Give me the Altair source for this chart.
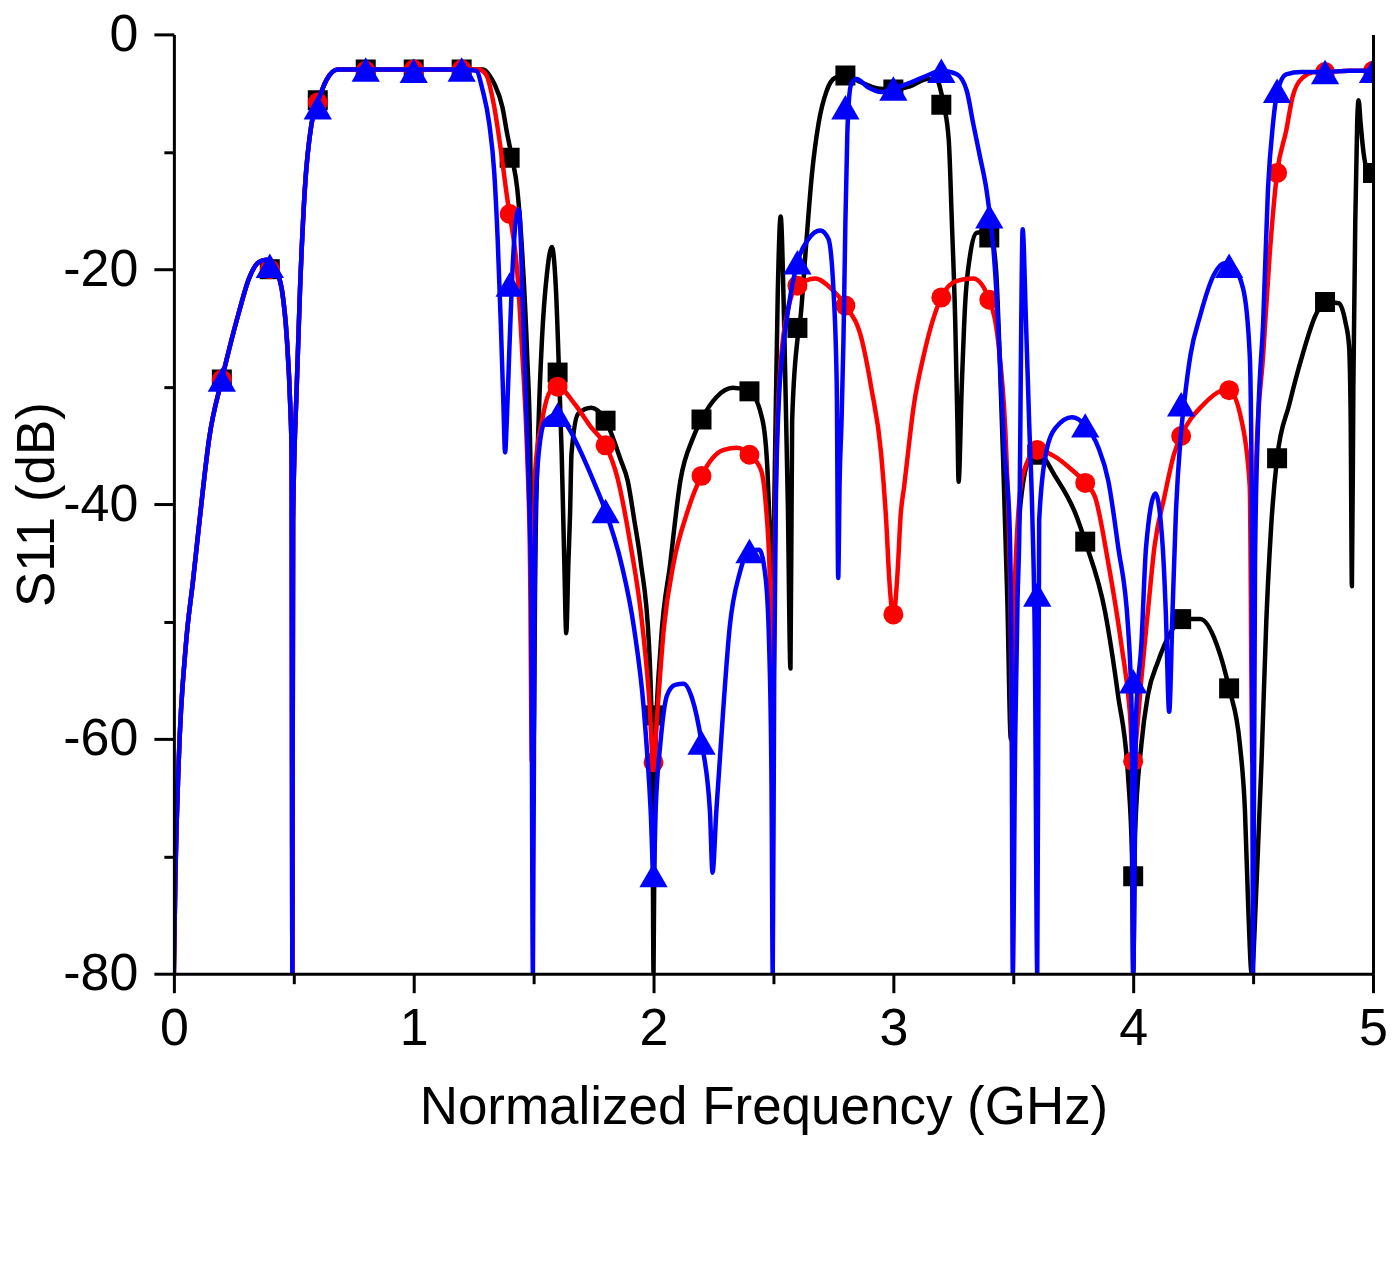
import altair as alt
import pandas as pd

names = ["α=50deg", "α=60deg", "α=70deg"]
colors = ["#0000ff", "#ff0000", "#000000"]
shapes = ["triangle-up", "circle", "square"]

x_major = [0, 1, 2, 3, 4, 5]
x_minor = [0.5, 1.5, 2.5, 3.5, 4.5]
y_major = [-80, -60, -40, -20, 0]
y_minor = [-70, -50, -30, -10]

# below 1.2 GHz the three curves lie on top of each other
start_pts = [
    (0.0, -80), (0.006, -72), (0.02, -62), (0.05, -52), (0.08, -46.5), (0.107, -41.4),
    (0.148, -34.3), (0.2, -29.4), (0.238, -26.2), (0.272, -23.6), (0.313, -20.8),
    (0.354, -19.4), (0.385, -19.2), (0.409, -19.4), (0.43, -20.3), (0.45, -21.7),
    (0.471, -25.9), (0.485, -31.5), (0.491, -35.7), (0.494, -80), (0.497, -41.4),
    (0.512, -30.1), (0.526, -21.7), (0.546, -13.2), (0.574, -7.6), (0.6, -5.8),
    (0.636, -3.9), (0.684, -3.0), (0.75, -3.0), (0.8, -3.0), (0.9, -3.0), (1.0, -3.0),
    (1.1, -3.0), (1.2, -3.0),
]

blue_pts = [
    (1.26, -3.1), (1.288, -4.8), (1.315, -7.6), (1.336, -11.8), (1.35, -17.4), (1.363, -24.5),
    (1.374, -31.5), (1.381, -35.6), (1.388, -33.0), (1.398, -27.3), (1.409, -21.4), (1.425, -16.0),
    (1.439, -14.9), (1.453, -21.7), (1.466, -30.1), (1.48, -38.5), (1.49, -48), (1.497, -80),
    (1.503, -52), (1.507, -41.4), (1.521, -35.7), (1.549, -32.9), (1.6, -32.4), (1.645, -33.5),
    (1.713, -36.3), (1.755, -38.3), (1.8, -40.6), (1.865, -45.0), (1.919, -50.6), (1.96, -57.6),
    (1.988, -66.1), (2.0, -71.6), (2.01, -65.5), (2.028, -60.5), (2.056, -56.3), (2.09, -55.4),
    (2.125, -55.3), (2.16, -56.5), (2.2, -60.3), (2.235, -66.1), (2.246, -71.4), (2.262, -66.1),
    (2.29, -57.7), (2.317, -50.6), (2.359, -45.9), (2.4, -44.0), (2.441, -43.9), (2.468, -46.4),
    (2.482, -52.0), (2.492, -64), (2.497, -80), (2.503, -55), (2.51, -40), (2.523, -31),
    (2.537, -27.3), (2.564, -23.1), (2.6, -19.4), (2.647, -17.4), (2.695, -16.7), (2.729, -17.4),
    (2.75, -21.7), (2.764, -30), (2.77, -46.3), (2.776, -38), (2.784, -32.9), (2.792, -26),
    (2.8, -16), (2.808, -8.5), (2.815, -5.5), (2.825, -4.2), (2.846, -3.8), (2.894, -4.5),
    (2.949, -4.9), (3.0, -4.6), (3.072, -4.1), (3.141, -3.5), (3.2, -3.1), (3.265, -3.4),
    (3.306, -4.8), (3.333, -7.6), (3.361, -10.4), (3.388, -13.2), (3.4, -15.0), (3.414, -17.5),
    (3.429, -21.7), (3.443, -27.3), (3.464, -35.7), (3.484, -41.4), (3.492, -52), (3.498, -80),
    (3.508, -60), (3.518, -48), (3.526, -41.4), (3.533, -25), (3.539, -16.6), (3.553, -24.5),
    (3.566, -32.9), (3.58, -41.4), (3.59, -52), (3.6, -80), (3.608, -41.4), (3.636, -35.7),
    (3.677, -33.5), (3.745, -32.6), (3.8, -33.3), (3.855, -35.2), (3.896, -38.0), (3.937, -43.6),
    (3.979, -50.6), (3.994, -58), (4.0, -80), (4.012, -58), (4.034, -52), (4.054, -43.6),
    (4.093, -39.1), (4.123, -43.6), (4.136, -49.2), (4.15, -57.7), (4.164, -49.2), (4.178, -40.8),
    (4.198, -34.3), (4.212, -31.5), (4.239, -27.3), (4.28, -23.9), (4.336, -20.5), (4.38, -19.5),
    (4.411, -19.7), (4.459, -21.7), (4.486, -27.3), (4.494, -38.5), (4.5, -80), (4.508, -45),
    (4.521, -32.9), (4.542, -24.5), (4.562, -13.2), (4.583, -7.6), (4.6, -5.0), (4.638, -3.4),
    (4.7, -3.2), (4.8, -3.2), (4.9, -3.1), (5.0, -3.1),
]

red_pts = [
    (1.27, -3.0), (1.301, -3.4), (1.336, -6.2), (1.363, -9.8), (1.391, -14.1), (1.4, -15.3),
    (1.432, -20.3), (1.453, -27.3), (1.473, -35.7), (1.485, -45), (1.493, -62), (1.5, -46),
    (1.507, -37.1), (1.535, -32.9), (1.569, -30.4), (1.6, -30.0), (1.672, -31.5), (1.741, -33.5),
    (1.8, -35.0), (1.85, -37.8), (1.905, -43.6), (1.947, -49.2), (1.981, -56.3), (2.0, -62.0),
    (2.016, -57.7), (2.043, -50.6), (2.084, -45.0), (2.139, -40.8), (2.2, -37.6), (2.29, -35.4),
    (2.35, -35.2), (2.4, -35.8), (2.448, -37.1), (2.468, -40.0), (2.485, -46.4), (2.497, -62),
    (2.505, -45), (2.523, -30.1), (2.564, -23.1), (2.6, -21.4), (2.674, -20.8), (2.743, -21.7),
    (2.8, -23.1), (2.867, -25.9), (2.908, -30.1), (2.949, -35.7), (2.97, -41.4), (2.983, -46.4),
    (3.0, -49.6), (3.017, -46.0), (3.031, -40.8), (3.045, -38.5), (3.086, -31.5), (3.127, -27.3),
    (3.2, -22.4), (3.265, -21.0), (3.333, -20.8), (3.4, -22.6), (3.443, -27.3), (3.471, -35.7),
    (3.488, -48), (3.497, -62), (3.508, -46), (3.54, -37.5), (3.6, -35.4), (3.677, -36.0),
    (3.745, -37.1), (3.8, -38.2), (3.841, -39.4), (3.896, -45.0), (3.951, -52.0), (3.986, -57.7),
    (4.0, -62.0), (4.015, -59.5), (4.034, -54.9), (4.061, -49.2), (4.089, -43.6), (4.13, -39.4),
    (4.171, -35.7), (4.2, -34.2), (4.294, -31.5), (4.363, -30.4), (4.4, -30.3), (4.452, -32.9),
    (4.486, -38.5), (4.497, -62), (4.506, -42), (4.514, -35.7), (4.542, -27.3), (4.569, -18.8),
    (4.6, -11.8), (4.638, -8.2), (4.665, -5.3), (4.706, -3.7), (4.761, -3.2), (4.8, -3.2),
    (4.9, -3.1), (5.0, -3.1),
]

black_pts = [
    (1.29, -3.0), (1.316, -3.5), (1.336, -4.2), (1.37, -6.2), (1.39, -8.5), (1.41, -10.5),
    (1.432, -13.2), (1.453, -18.8), (1.473, -27.3), (1.486, -35.7), (1.494, -50), (1.5, -60),
    (1.507, -45), (1.521, -32.9), (1.535, -25.9), (1.556, -20.3), (1.576, -18.1), (1.593, -21.7),
    (1.606, -28.8), (1.617, -35.7), (1.628, -45), (1.636, -51), (1.645, -45), (1.652, -40.8),
    (1.658, -35.7), (1.686, -32.3), (1.741, -31.8), (1.8, -32.9), (1.864, -36.3), (1.892, -38.0),
    (1.92, -41.4), (1.947, -45.0), (1.981, -52.0), (1.995, -62), (2.0, -80), (2.006, -62),
    (2.03, -52.0), (2.07, -45.0), (2.112, -38.0), (2.166, -34.3), (2.2, -32.8), (2.262, -30.9),
    (2.331, -30.1), (2.4, -30.4), (2.455, -32.9), (2.475, -37.1), (2.488, -44), (2.495, -49),
    (2.505, -38), (2.518, -22), (2.53, -15.5), (2.545, -25), (2.56, -40), (2.571, -54),
    (2.578, -32.9), (2.6, -26.0), (2.613, -24.1), (2.633, -18.8), (2.661, -11.8), (2.688, -7.6),
    (2.722, -4.8), (2.757, -3.7), (2.8, -3.5), (2.867, -4.1), (2.935, -4.6), (3.0, -4.7),
    (3.072, -4.4), (3.141, -3.8), (3.182, -3.9), (3.2, -5.0), (3.21, -6.0), (3.231, -9.0),
    (3.244, -16.0), (3.258, -24.5), (3.267, -32.9), (3.272, -38.1), (3.285, -30.1), (3.299, -23.1),
    (3.32, -18.8), (3.347, -16.9), (3.38, -16.8), (3.409, -17.3), (3.429, -20.3), (3.443, -27.3),
    (3.457, -35.7), (3.475, -48), (3.49, -60), (3.505, -50), (3.53, -40), (3.57, -36.0),
    (3.6, -35.6), (3.677, -37.7), (3.759, -40.8), (3.8, -43.2), (3.883, -49.2), (3.937, -56.3),
    (3.979, -63.3), (3.995, -70), (4.0, -80), (4.008, -68), (4.034, -60.5), (4.061, -56.3),
    (4.102, -53.5), (4.157, -50.9), (4.2, -49.8), (4.28, -49.8), (4.349, -52.0), (4.4, -55.7),
    (4.445, -60.5), (4.466, -66.1), (4.48, -74.5), (4.494, -80), (4.515, -72), (4.535, -62),
    (4.555, -50), (4.575, -42), (4.6, -36.1), (4.651, -31.5), (4.706, -27.3), (4.761, -23.9),
    (4.8, -22.8), (4.857, -22.9), (4.885, -24.5), (4.9, -26.5), (4.907, -33), (4.912, -47),
    (4.918, -30), (4.926, -16), (4.934, -7.5), (4.94, -5.6), (4.948, -7.5), (4.96, -10.0),
    (4.975, -11.5), (5.0, -11.8),
]

# symbols every 0.2 GHz
marker_f = [0.2, 0.4, 0.6, 0.8, 1.0, 1.2, 1.4, 1.6, 1.8, 2.0, 2.2, 2.4, 2.6,
            2.8, 3.0, 3.2, 3.4, 3.6, 3.8, 4.0, 4.2, 4.4, 4.6, 4.8, 5.0]
blue_marks = [-29.4, -19.7, -6.2, -3.0, -3.1, -3.0, -21.3, -32.4, -40.6, -71.6, -60.3, -44.0, -19.4,
              -6.2, -4.6, -3.1, -15.5, -47.7, -33.3, -55.1, -31.5, -19.7, -4.8, -3.2, -3.1]
red_marks = [-29.4, -20.0, -5.8, -3.1, -3.0, -3.0, -15.3, -30.0, -35.0, -62.0, -37.6, -35.8, -21.4,
             -23.1, -49.4, -22.4, -22.6, -35.4, -38.2, -61.9, -34.2, -30.3, -11.8, -3.2, -3.1]
black_marks = [-29.4, -20.0, -5.6, -3.0, -3.0, -3.0, -10.5, -28.8, -32.9, -58.0, -32.8, -30.4, -25.0,
               -3.5, -4.7, -6.0, -17.3, -35.8, -43.2, -71.7, -49.8, -55.7, -36.1, -22.8, -11.8]

FONT = "Liberation Sans"


def curve_df(name, pts):
    allp = start_pts + pts
    return pd.DataFrame({"f": [p[0] for p in allp], "db": [p[1] for p in allp], "series": name})


def marker_df(name, vals):
    return pd.DataFrame({"f": marker_f, "db": vals, "series": name})


xscale = alt.Scale(domain=[0, 5], nice=False, zero=False)
yscale = alt.Scale(domain=[-80, 0], nice=False, zero=False)
cscale = alt.Scale(domain=names, range=colors)
sscale = alt.Scale(domain=names, range=shapes)

common = dict(tickWidth=3, tickColor="black", domainWidth=3, domainColor="black",
              grid=False, zindex=1)

x_axis = alt.Axis(
    values=x_major, labelExpr="toString(datum.value)", tickSize=19,
    labelFont=FONT, labelFontSize=52, labelColor="black", labelPadding=11,
    labelFlush=False, title="Normalized Frequency (GHz)", titleFont=FONT, titleFontSize=53,
    titleFontWeight="normal", titleColor="black", titleX=590, titleY=150,
    titleBaseline="alphabetic", titleAlign="center", **common,
)
x_minor_axis = alt.Axis(values=x_minor, tickSize=10, orient="bottom", labels=False,
                        domain=False, title=None, **common)
y_axis = alt.Axis(
    values=y_major, labelExpr="toString(datum.value)", tickSize=20,
    labelFont=FONT, labelFontSize=52, labelColor="black", labelPadding=16,
    labelFlush=False, title="S11 (dB)", titleFont=FONT, titleFontSize=53,
    titleFontWeight="normal", titleColor="black", titleX=-120, titleY=470, titleAngle=-90,
    titleBaseline="alphabetic", titleAlign="center", orient="left", **common,
)
y_minor_axis = alt.Axis(values=y_minor, tickSize=10, orient="left", labels=False,
                        domain=False, title=None, **common)
right_axis = alt.Axis(orient="right", ticks=False, labels=False, title=None, **common)

legend_opts = dict(
    title=None, orient="none", legendX=794, legendY=-142, direction="vertical",
    labelFont=FONT, labelFontSize=49, labelColor="black",
    symbolSize=550, symbolStrokeWidth=0, labelOffset=104,
    rowPadding=16, padding=8, strokeColor="#222222", fillColor="white",
)

# draw order: black, red, blue on top; each line layer also carries one set of axes
styles = [
    (names[2], 400, black_pts, black_marks, x_axis, y_axis, True),
    (names[1], 400, red_pts, red_marks, x_minor_axis, y_minor_axis, False),
    (names[0], 800, blue_pts, blue_marks, None, right_axis, False),
]

layers = []
for name, size, pts, marks, xa, ya, with_legend in styles:
    line = alt.Chart(curve_df(name, pts)).mark_line(
        strokeWidth=4.5, interpolate="monotone", clip=True, strokeJoin="round"
    ).encode(
        x=alt.X("f:Q", scale=xscale, axis=xa),
        y=alt.Y("db:Q", scale=yscale, axis=ya),
        color=alt.Color("series:N", scale=cscale, legend=None),
    )
    pts_layer = alt.Chart(marker_df(name, marks)).mark_point(
        size=size, filled=True, opacity=1, clip=True
    ).encode(
        x=alt.X("f:Q", scale=xscale, axis=None),
        y=alt.Y("db:Q", scale=yscale, axis=None),
        color=alt.Color("series:N", scale=cscale,
                        legend=alt.Legend(**legend_opts) if with_legend else None),
        shape=alt.Shape("series:N", scale=sscale,
                        legend=alt.Legend(**legend_opts) if with_legend else None),
    )
    layers += [line, pts_layer]

chart = alt.layer(*layers).resolve_axis(x="independent", y="independent").properties(
    width=1200, height=940, padding={"left": 4, "top": 0, "right": 4, "bottom": 0},
    background="white",
).configure(font=FONT).configure_view(strokeWidth=0)

chart.save("out.html", embed_options={"renderer": "svg", "actions": False})
